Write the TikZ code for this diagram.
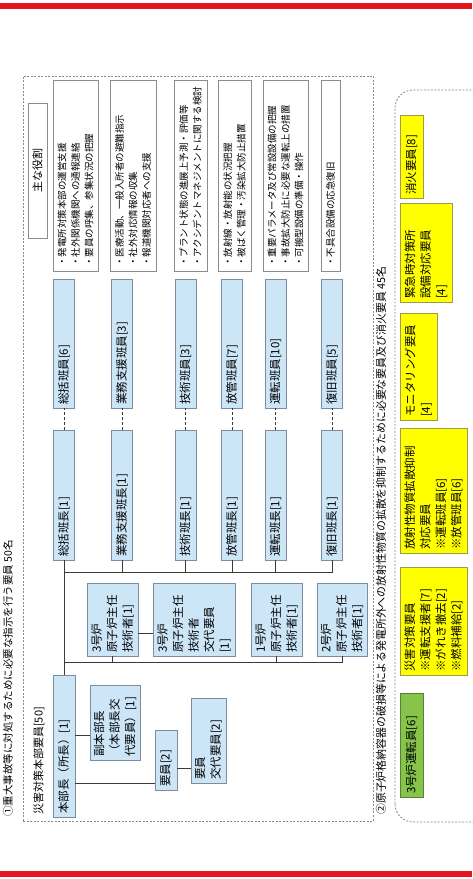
\documentclass[tikz,border=0pt]{standalone}
\usepackage{fontspec}
\setmainfont{Noto Sans CJK JP}
\definecolor{boxblue}{HTML}{CCE6F8}
\definecolor{boxedge}{HTML}{7C8C9C}
\definecolor{ybox}{HTML}{FFFF00}
\definecolor{yedge}{HTML}{9C9C4A}
\definecolor{gbox}{HTML}{86C44A}
\definecolor{gedge}{HTML}{5B7F3A}
\definecolor{roleedge}{HTML}{8C8C8C}
\definecolor{redbar}{HTML}{E3151E}
\definecolor{dashgray}{HTML}{8A8A8A}
\definecolor{linegray}{HTML}{3A3A3A}
\begin{document}
\begin{tikzpicture}[x=1pt,y=1pt,
  basebox/.style={rotate=90, align=left, inner xsep=3pt, inner ysep=1pt, line width=0.8pt,
    font=\fontsize{11.5}{15.5}\selectfont},
  bluebox/.style={basebox, draw=boxedge, fill=boxblue},
  ybx/.style={basebox, draw=yedge, fill=ybox},
  gbx/.style={basebox, draw=gedge, fill=gbox},
  rolebox/.style={rotate=90, align=left, inner xsep=4pt, inner ysep=1pt, line width=0.8pt,
    draw=roleedge, fill=white, text width=183pt, font=\fontsize{9.5}{13.5}\selectfont},
  titletext/.style={rotate=90, anchor=west, inner sep=0pt},
  conn/.style={draw=linegray, line width=0.9pt},
  dconn/.style={draw=linegray, line width=0.9pt, dash pattern=on 3pt off 2pt},
  grp/.style={draw=dashgray, line width=0.8pt, dash pattern=on 2pt off 1.5pt}
]
\useasboundingbox (0,0) rectangle (472,879);
\fill[white] (0,0) rectangle (472,879);
% red bars
\fill[redbar] (0,870) rectangle (472,876);
\fill[redbar] (0,2) rectangle (472,8);

% group frames
\draw[grp] (23,58) rectangle (373,803);
\draw[grp, rounded corners=18pt] (395,57) rectangle (490,789);

% titles
\node[titletext, font=\fontsize{10.5}{12}\selectfont] (t1) at (8,62) {①重大事故等に対処するために必要な指示を行う要員\ 50名};
\node[titletext, font=\fontsize{10.9}{12}\selectfont] (t2) at (381,64) {②原子炉格納容器の破損等による発電所外への放射性物質の拡散を抑制するために必要な要員及び消火要員\ 45名};
\node[titletext, font=\fontsize{11}{12}\selectfont] (t3) at (39,64) {災害対策本部要員[50]};

% headquarters
\node[bluebox, text width=136pt, minimum height=22pt] (honbu) at (64,133) {本部長（所長）[1]};
\node[bluebox, text width=69pt, minimum height=50pt] (fuku) at (115,156.5) {副本部長\\（本部長交\\代要員）[1]};
\node[bluebox, text width=54pt, minimum height=22pt] (youin) at (166,119) {要員[2]};
\node[bluebox, text width=79pt, minimum height=35pt] (koutai) at (208.5,138.5) {要員\\交代要員[2]};

% chief engineers
\node[bluebox, text width=67pt, minimum height=51pt] (r3) at (112.5,259.5) {3号炉\\原子炉主任\\技術者[1]};
\node[bluebox, text width=67pt, minimum height=82pt] (r3k) at (194,259.5) {3号炉\\原子炉主任\\技術者\\交代要員\\{}[1]};
\node[bluebox, text width=67pt, minimum height=51pt] (r1) at (276.5,259.5) {1号炉\\原子炉主任\\技術者[1]};
\node[bluebox, text width=67pt, minimum height=50pt] (r2) at (342,259.5) {2号炉\\原子炉主任\\技術者[1]};

% team leaders
\node[bluebox, text width=124pt, minimum height=21pt] (hc1) at (64,384) {総括班長[1]};
\node[bluebox, text width=124pt, minimum height=21pt] (hc2) at (122,384) {業務支援班長[1]};
\node[bluebox, text width=124pt, minimum height=21pt] (hc3) at (185.5,384) {技術班長[1]};
\node[bluebox, text width=124pt, minimum height=21pt] (hc4) at (232,384) {放管班長[1]};
\node[bluebox, text width=124pt, minimum height=21pt] (hc5) at (275.5,384) {運転班長[1]};
\node[bluebox, text width=124pt, minimum height=21pt] (hc6) at (332,384) {復旧班長[1]};

% team members
\node[bluebox, text width=123pt, minimum height=21pt] (hi1) at (64,535.5) {総括班員[6]};
\node[bluebox, text width=123pt, minimum height=21pt] (hi2) at (122,535.5) {業務支援班員[3]};
\node[bluebox, text width=123pt, minimum height=21pt] (hi3) at (185.5,535.5) {技術班員[3]};
\node[bluebox, text width=123pt, minimum height=21pt] (hi4) at (232,535.5) {放管班員[7]};
\node[bluebox, text width=123pt, minimum height=21pt] (hi5) at (275.5,535.5) {運転班員[10]};
\node[bluebox, text width=123pt, minimum height=21pt] (hi6) at (332,535.5) {復旧班員[5]};

% roles
\node[rotate=90, draw=roleedge, fill=white, line width=0.8pt, minimum width=135pt, minimum height=19pt,
  inner sep=1pt, font=\fontsize{11}{12}\selectfont] (omona) at (37.5,708.5) {主な役割};
\node[rolebox, minimum height=45pt] (ro1) at (75.5,703.5) {・発電所対策本部の運営支援\\・社外関係機関への通報連絡\\・要員の呼集、参集状況の把握};
\node[rolebox, minimum height=46pt] (ro2) at (133,703.5) {・医療活動、一般入所者の避難指示\\・社外対応情報の収集\\・報道機関対応者への支援};
\node[rolebox, minimum height=33pt] (ro3) at (190.5,703.5) {・プラント状態の進展上予測・評価等\\・アクシデントマネジメントに関する検討};
\node[rolebox, minimum height=33pt] (ro4) at (234.5,703.5) {・放射線・放射能の状況把握\\・被ばく管理・汚染拡大防止措置};
\node[rolebox, minimum height=45pt] (ro5) at (285.5,703.5) {・重要パラメータ及び常設設備の把握\\・事故拡大防止に必要な運転上の措置\\・可搬型設備の準備・操作};
\node[rolebox, minimum height=19pt] (ro6) at (330.5,703.5) {・不具合設備の応急復旧};

% group 2
\node[gbx, text width=98pt, minimum height=23pt] (g1) at (411.5,134) {3号炉運転員[6]};
\node[ybx, text width=102pt, minimum height=67pt] (y1) at (433.5,258) {災害対策要員\\※運転支援者[7]\\※がれき撤去[2]\\※燃料補給[2]};
\node[ybx, text width=119pt, minimum height=67pt] (y2) at (433.5,388.5) {放射性物質拡散抑制\\対応要員\\※運転班員[6]\\※放管班員[6]};
\node[ybx, text width=101pt, minimum height=37pt] (y3) at (418.5,512.5) {モニタリング要員\\{}[4]};
\node[ybx, text width=93pt, minimum height=52pt] (y4) at (426,626.5) {緊急時対策所\\設備対応要員\\{}[4]};
\node[ybx, text width=77pt, minimum height=23pt] (y5) at (411.5,722.5) {消火要員[8]};

% connectors
\coordinate (b1) at (64,307);
\coordinate (b2) at (64,217);
\coordinate (k1) at (0,144);
\coordinate (k2) at (0,96);
\coordinate (k3) at (0,111);
\coordinate (k4) at (0,246);
\draw[conn] (honbu.east) -- (hc1.west);
\draw[conn] (b1) -| (hc6.west);
\draw[conn] (hc2.west |- b1) -- (hc2.west);
\draw[conn] (hc3.west |- b1) -- (hc3.west);
\draw[conn] (hc4.west |- b1) -- (hc4.west);
\draw[conn] (hc5.west |- b1) -- (hc5.west);
\draw[conn] (b2) -| (r2.west);
\draw[conn] (r3.west |- b2) -- (r3.west);
\draw[conn] (r1.west |- b2) -- (r1.west);
\draw[conn] (r3.south |- k4) -- (r3k.north |- k4);
\draw[conn] (honbu.south |- k1) -- (fuku.north |- k1);
\draw[conn] (honbu.south |- k2) -- (youin.north |- k2);
\draw[conn] (youin.south |- k3) -- (koutai.north |- k3);
\foreach \i in {1,...,6} {\draw[dconn] (hc\i.east) -- (hi\i.west);}
\end{tikzpicture}
\end{document}
